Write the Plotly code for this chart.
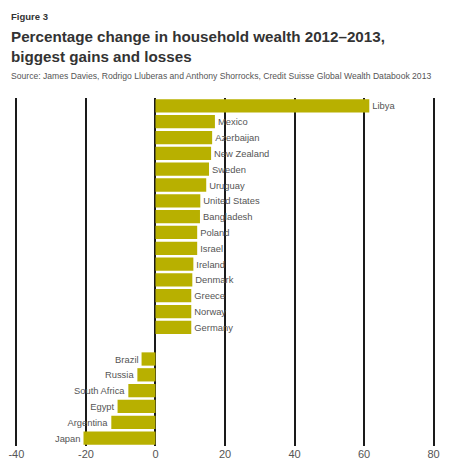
import plotly.graph_objects as go

gain_countries = ["Libya", "Mexico", "Azerbaijan", "New Zealand", "Sweden", "Uruguay",
                  "United States", "Bangladesh", "Poland", "Israel", "Ireland", "Denmark",
                  "Greece", "Norway", "Germany"]
gain_values = [61.5, 17.1, 16.3, 16.0, 15.4, 14.6, 12.9, 12.8, 12.0, 12.0, 10.9, 10.6,
               10.3, 10.3, 10.3]

loss_countries = ["Brazil", "Russia", "South Africa", "Egypt", "Argentina", "Japan"]
loss_values = [-4.0, -5.2, -7.8, -10.9, -12.7, -20.7]

x_ticks = [-40, -20, 0, 20, 40, 60, 80]

# one empty row between gains and losses
countries = gain_countries + loss_countries
values = gain_values + loss_values
rows = list(range(len(gain_countries))) + [len(gain_countries) + 1 + i for i in range(len(loss_countries))]

FONT = "Liberation Sans, Arial"

fig = go.Figure()
fig.add_trace(go.Bar(
    x=values, y=rows, orientation="h",
    marker=dict(color="#b8b000", line=dict(width=0)),
    text=countries, textposition="outside", cliponaxis=False,
    textfont=dict(family=FONT, size=9.4, color="#555555"),
    width=0.84,
))

fig.update_xaxes(range=[-40.4, 80.4], tickvals=x_ticks, ticktext=[str(t) for t in x_ticks],
                 showgrid=True, gridcolor="#1a1a1a", gridwidth=1.6, zeroline=False,
                 showline=False, ticklabeloverflow="allow",
                 tickfont=dict(family=FONT, size=11, color="#555555"),
                 ticks="", automargin=False)
fig.update_yaxes(range=[max(rows) + 0.5, -0.5], showticklabels=False, showgrid=False,
                 zeroline=False, showline=False, ticks="")

# page body has an 8px margin, so the figure is sized to fit the window
fig.update_layout(
    width=434, height=453,
    margin=dict(l=7, r=7, t=90, b=15),
    paper_bgcolor="white", plot_bgcolor="white",
    showlegend=False,
)

fig.add_annotation(text="<b>Figure 3</b>", xref="paper", yref="paper", x=-0.014, y=1.233,
                   xanchor="left", yanchor="middle", showarrow=False,
                   font=dict(family=FONT, size=9.5, color="#333333"))
fig.add_annotation(text="<b>Percentage change in household wealth 2012–2013,<br>biggest gains and losses</b>",
                   xref="paper", yref="paper", x=-0.014, y=1.147, xanchor="left", yanchor="middle",
                   align="left", showarrow=False,
                   font=dict(family=FONT, size=15.2, color="#333333"))
fig.add_annotation(text="Source: James Davies, Rodrigo Lluberas and Anthony Shorrocks, Credit Suisse Global Wealth Databook 2013",
                   xref="paper", yref="paper", x=-0.014, y=1.063, xanchor="left", yanchor="middle",
                   showarrow=False,
                   font=dict(family=FONT, size=8.6, color="#555555"))

fig.write_html("out.html")
